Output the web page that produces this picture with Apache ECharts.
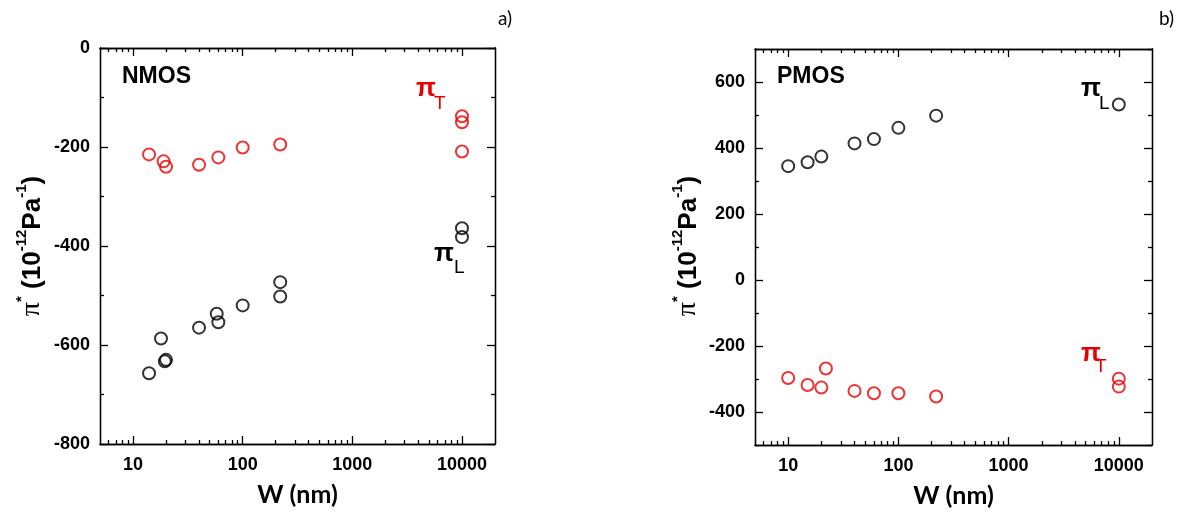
<!DOCTYPE html>
<html><head><meta charset="utf-8">
<script src="https://cdn.jsdelivr.net/npm/echarts@6/dist/echarts.min.js"></script>
<style>html,body{margin:0;padding:0;background:#fff}#c{width:1183px;height:518px}</style>
</head><body><div id="c"></div>
<script>
// ---- data (W in nm, pi* in 1e-12 Pa^-1) ----
const nmosW_T = [14, 19, 20, 40, 60, 100, 220, 10000, 10000, 10000];
const nmosT   = [-215, -229, -240, -236, -221, -201, -195, -138, -150, -209];
const nmosW_L = [14, 18, 19.5, 20, 40, 58, 60, 100, 220, 220, 10000, 10000];
const nmosL   = [-657, -587, -633, -630, -565, -537, -554, -520, -473, -502, -364, -382];
const pmosW_L = [10, 15, 20, 40, 60, 100, 220, 10000];
const pmosL   = [345, 357, 374, 414, 427, 461, 498, 532];
const pmosW_T = [10, 15, 20, 22, 40, 60, 100, 220, 10000, 10000];
const pmosT   = [-297, -318, -326, -268, -336, -343, -343, -353, -299, -323];
const xMajor = [10, 100, 1000, 10000];
const xMinor = [6, 7, 8, 9, 20, 30, 40, 50, 60, 70, 80, 90, 200, 300, 400, 500, 600, 700, 800, 900,
                2000, 3000, 4000, 5000, 6000, 7000, 8000, 9000];
const nmosY = {min: -800, max: 0};
const nmosMajor = [-800, -600, -400, -200, 0];
const nmosMinor = [-700, -500, -300, -100];
const pmosY = {min: -500, max: 700};
const pmosMajor = [-400, -200, 0, 200, 400, 600];
const pmosMinor = [-500, -300, -100, 100, 300, 500, 700];

const RED = '#e80000', BLACK = '#000';
const FONT = '"Liberation Sans", Arial, sans-serif';

function pairs(xs, ys) { return xs.map((x, i) => [x, ys[i]]); }

const axisLineStyle = {color: '#000', width: 1.3};
function xAxes(g) {
  const base = {type: 'log', logBase: 10, min: 5, max: 20000, gridIndex: g,
    splitLine: {show: false}, axisLine: {show: true, onZero: false, lineStyle: axisLineStyle}};
  return [
    Object.assign({}, base, {position: 'bottom',
      axisTick: {show: true, inside: true, length: 8, customValues: xMajor, lineStyle: axisLineStyle},
      axisLabel: {show: true, customValues: xMajor, formatter: v => String(Math.round(v)), margin: 12,
        color: '#000', fontSize: 18, fontWeight: 'bold', fontFamily: FONT},
      name: 'W (nm)', nameLocation: 'middle', nameGap: 38,
      nameTextStyle: {fontSize: 25, fontWeight: 'bold', fontFamily: 'Lato, "Open Sans", sans-serif', color: '#000'}}),
    Object.assign({}, base, {position: 'bottom',
      axisTick: {show: true, inside: true, length: 4, customValues: xMinor, lineStyle: axisLineStyle},
      axisLabel: {show: false}}),
    Object.assign({}, base, {position: 'top',
      axisTick: {show: true, inside: true, length: 8, customValues: xMajor, lineStyle: axisLineStyle},
      axisLabel: {show: false}}),
    Object.assign({}, base, {position: 'top',
      axisTick: {show: true, inside: true, length: 4, customValues: xMinor, lineStyle: axisLineStyle},
      axisLabel: {show: false}})
  ];
}
function yAxes(g, rng, major, minor) {
  const base = {type: 'value', min: rng.min, max: rng.max, gridIndex: g,
    splitLine: {show: false}, axisLine: {show: true, onZero: false, lineStyle: axisLineStyle}};
  const out = [];
  ['left', 'right'].forEach(pos => {
    out.push(Object.assign({}, base, {position: pos,
      axisTick: {show: true, inside: true, length: 8, customValues: major, lineStyle: axisLineStyle},
      axisLabel: {show: pos === 'left', customValues: major, margin: 10, color: '#000', fontSize: 18,
        fontWeight: 'bold', fontFamily: FONT}}));
    out.push(Object.assign({}, base, {position: pos,
      axisTick: {show: true, inside: true, length: 4, customValues: minor, lineStyle: axisLineStyle},
      axisLabel: {show: false}}));
  });
  return out;
}

function scatter(xi, yi, data, color) {
  return {type: 'scatter', xAxisIndex: xi, yAxisIndex: yi, data: data, symbol: 'circle', symbolSize: 12,
    itemStyle: {color: 'rgba(0,0,0,0)', borderColor: color, borderWidth: 2}, silent: true};
}

function piLabel(px, py, sub, sx, sy, color) {
  return [
    {type: 'text', x: px, y: py, style: {text: 'π', fill: color, font: 'bold 26px ' + FONT,
      align: 'left', verticalAlign: 'middle'}},
    {type: 'text', x: sx, y: sy, style: {text: sub, fill: color, font: '19px ' + FONT,
      align: 'left', verticalAlign: 'middle'}}
  ];
}
function yTitle(cx, cy) {
  return {type: 'text', x: cx, y: cy, rotation: Math.PI / 2,
    style: {text: '{p|π}{s|*}{n| (10}{s|-12}{n|Pa}{s|-1}{n|)}', align: 'center', verticalAlign: 'middle',
      rich: {
        p: {fontSize: 28, fontFamily: '"Liberation Serif", serif', lineHeight: 32, verticalAlign: 'bottom', fill: '#000'},
        n: {fontSize: 26, fontWeight: 'bold', fontFamily: FONT, lineHeight: 32, verticalAlign: 'bottom', fill: '#000'},
        s: {fontSize: 15, fontWeight: 'bold', fontFamily: FONT, lineHeight: 15, verticalAlign: 'top', fill: '#000'}
      }}};
}

const chart = echarts.init(document.getElementById('c'), null, {renderer: 'canvas'});
chart.setOption({
  animation: false,
  backgroundColor: '#fff',
  grid: [
    {left: 100, top: 48, width: 395, height: 396, containLabel: false, outerBoundsMode: 'none'},
    {left: 755, top: 49, width: 397, height: 396, containLabel: false, outerBoundsMode: 'none'}
  ],
  xAxis: xAxes(0).concat(xAxes(1)),
  yAxis: yAxes(0, nmosY, nmosMajor, nmosMinor).concat(yAxes(1, pmosY, pmosMajor, pmosMinor)),
  series: [
    scatter(0, 0, pairs(nmosW_T, nmosT), RED),
    scatter(0, 0, pairs(nmosW_L, nmosL), BLACK),
    scatter(4, 4, pairs(pmosW_L, pmosL), BLACK),
    scatter(4, 4, pairs(pmosW_T, pmosT), RED)
  ],
  graphic: [].concat(
    [{type: 'text', x: 122, y: 77, style: {text: 'NMOS', fill: '#000', font: 'bold 23px ' + FONT, verticalAlign: 'middle'}},
     {type: 'text', x: 777, y: 77, style: {text: 'PMOS', fill: '#000', font: 'bold 23px ' + FONT, verticalAlign: 'middle'}},
     {type: 'text', x: 498, y: 19, style: {text: 'a)', fill: '#000', font: '19px Lato, sans-serif', verticalAlign: 'middle'}},
     {type: 'text', x: 1159, y: 19, style: {text: 'b)', fill: '#000', font: '19px Lato, sans-serif', verticalAlign: 'middle'}},
     yTitle(30, 246), yTitle(686, 246)],
    piLabel(416, 89, 'T', 434, 104, RED),
    piLabel(434, 254, 'L', 454, 268, BLACK),
    piLabel(1081, 89, 'L', 1099, 104, BLACK),
    piLabel(1081, 354, 'T', 1095, 367, RED)
  )
});
</script></body></html>
